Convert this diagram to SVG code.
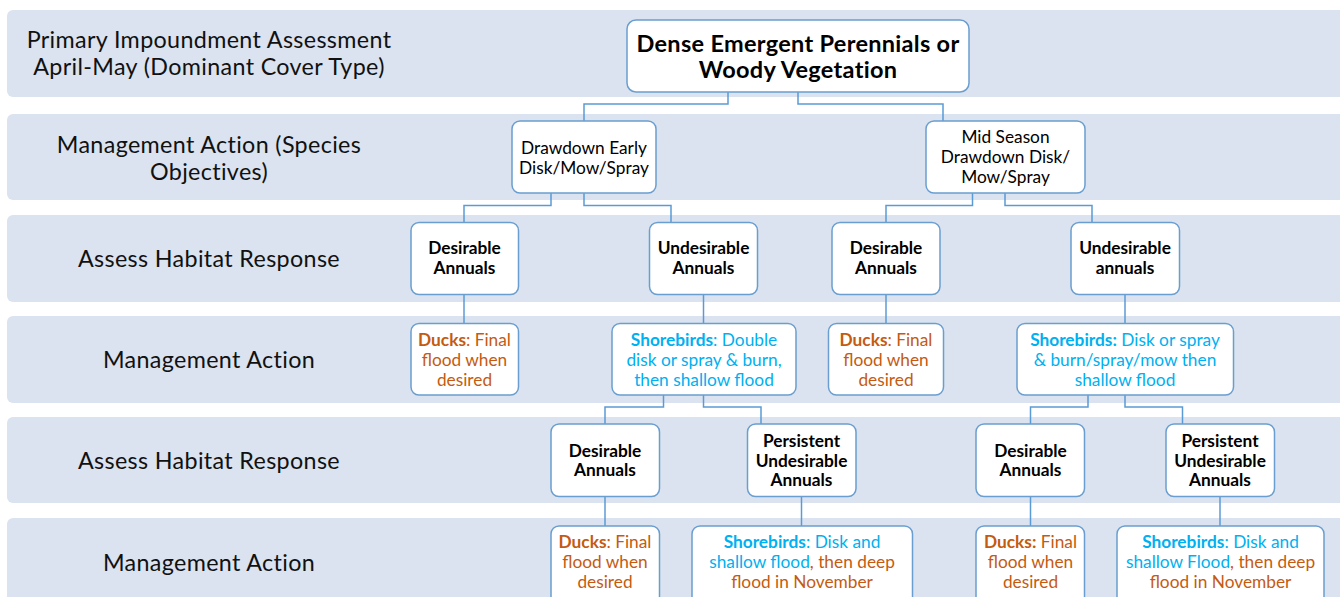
<svg xmlns="http://www.w3.org/2000/svg" width="1340" height="597" viewBox="0 0 1340 597">
  <style>
    .band { fill: #DAE3EF; }
    .node { fill: #FFFFFF; stroke: #6A9ED0; stroke-width: 1.5; }
    .conn { fill: none; stroke: #5B9BD5; stroke-width: 1.5; }
    text { font-family: Lato, "Open Sans", "Liberation Sans", sans-serif; }
    .lbl { font-size: 23.3px; letter-spacing: 0.35px; fill: #111111; text-anchor: middle; }
    .t { font-size: 17.3px; fill: #000000; text-anchor: middle; }
    .big { font-size: 23.5px; letter-spacing: 0.3px; font-weight: bold; fill: #000000; text-anchor: middle; }
    .b { font-weight: bold; }
    .duck { fill: #C55A11; }
    .shore { fill: #00B0F0; }
  </style>

  <!-- horizontal stage bands -->
  <g id="bands">
    <rect class="band" x="7" y="10" width="1345" height="87" rx="6"/>
    <rect class="band" x="7" y="114" width="1345" height="86" rx="6"/>
    <rect class="band" x="7" y="215" width="1345" height="87" rx="6"/>
    <rect class="band" x="7" y="316" width="1345" height="87" rx="6"/>
    <rect class="band" x="7" y="417" width="1345" height="86" rx="6"/>
    <rect class="band" x="7" y="518" width="1345" height="90" rx="6"/>
  </g>

  <!-- stage labels -->
  <g id="labels">
    <text class="lbl"><tspan x="209" y="48">Primary Impoundment Assessment</tspan><tspan x="209" y="75">April-May (Dominant Cover Type)</tspan></text>
    <text class="lbl"><tspan x="209" y="153">Management Action (Species</tspan><tspan x="209" y="180">Objectives)</tspan></text>
    <text class="lbl" x="209" y="267">Assess Habitat Response</text>
    <text class="lbl" x="209" y="368">Management Action</text>
    <text class="lbl" x="209" y="469">Assess Habitat Response</text>
    <text class="lbl" x="209" y="571">Management Action</text>
  </g>

  <!-- connectors -->
  <g id="connectors">
    <path class="conn" d="M728,92 V104 H584 V121"/>
    <path class="conn" d="M798,92 V104 H943 V121"/>
    <path class="conn" d="M551,193 V205.5 H464 V222"/>
    <path class="conn" d="M584,193 V205.5 H671 V222"/>
    <path class="conn" d="M972.5,193 V205.5 H886 V222"/>
    <path class="conn" d="M1005,193 V205.5 H1092 V222"/>
    <path class="conn" d="M464,294 V323"/>
    <path class="conn" d="M703.5,294 V323"/>
    <path class="conn" d="M886,294 V323"/>
    <path class="conn" d="M1125,294 V323"/>
    <path class="conn" d="M663.5,395 V407 H605 V424"/>
    <path class="conn" d="M703.5,395 V407 H761 V424"/>
    <path class="conn" d="M1088,395 V407 H1030.5 V424"/>
    <path class="conn" d="M1125,395 V407 H1182.5 V424"/>
    <path class="conn" d="M605,496.5 V526"/>
    <path class="conn" d="M801.5,496.5 V526"/>
    <path class="conn" d="M1030.5,496.5 V526"/>
    <path class="conn" d="M1220,496.5 V526"/>
  </g>

  <!-- root -->
  <g id="root">
    <rect class="node" x="627" y="20" width="342" height="72" rx="9"/>
    <text class="big"><tspan x="798" y="52">Dense Emergent Perennials or</tspan><tspan x="798" y="78">Woody Vegetation</tspan></text>
  </g>

  <!-- management actions -->
  <g id="drawdown-early">
    <rect class="node" x="512" y="121" width="144" height="72" rx="8"/>
    <text class="t"><tspan x="584" y="154">Drawdown Early</tspan><tspan x="584" y="174">Disk/Mow/Spray</tspan></text>
  </g>
  <g id="mid-season">
    <rect class="node" x="926" y="121" width="159" height="72" rx="8"/>
    <text class="t"><tspan x="1005.5" y="143">Mid Season</tspan><tspan x="1005.5" y="163">Drawdown Disk/</tspan><tspan x="1005.5" y="183">Mow/Spray</tspan></text>
  </g>

  <!-- first habitat assessment -->
  <g id="desirable-1">
    <rect class="node" x="411" y="222.5" width="107.5" height="72" rx="8"/>
    <text class="t b"><tspan x="464.5" y="254">Desirable</tspan><tspan x="464.5" y="274">Annuals</tspan></text>
  </g>
  <g id="undesirable-1">
    <rect class="node" x="649.5" y="222.5" width="108" height="72" rx="8"/>
    <text class="t b"><tspan x="703.5" y="254">Undesirable</tspan><tspan x="703.5" y="274">Annuals</tspan></text>
  </g>
  <g id="desirable-2">
    <rect class="node" x="832" y="222.5" width="108" height="72" rx="8"/>
    <text class="t b"><tspan x="886" y="254">Desirable</tspan><tspan x="886" y="274">Annuals</tspan></text>
  </g>
  <g id="undesirable-2">
    <rect class="node" x="1071" y="222.5" width="108.5" height="72" rx="8"/>
    <text class="t b"><tspan x="1125" y="254">Undesirable</tspan><tspan x="1125" y="274">annuals</tspan></text>
  </g>

  <!-- first species actions -->
  <g id="ducks-1">
    <rect class="node" x="411" y="323.5" width="107.5" height="71.5" rx="8"/>
    <text class="t duck"><tspan x="464.5" y="346"><tspan class="b">Ducks</tspan>: Final</tspan><tspan x="464.5" y="366">flood when</tspan><tspan x="464.5" y="385.5">desired</tspan></text>
  </g>
  <g id="shorebirds-1">
    <rect class="node" x="612" y="323.5" width="184" height="71.5" rx="8"/>
    <text class="t shore"><tspan x="704" y="346"><tspan class="b">Shorebirds</tspan>: Double</tspan><tspan x="704" y="366">disk or spray &amp; burn,</tspan><tspan x="704" y="385.5">then shallow flood</tspan></text>
  </g>
  <g id="ducks-2">
    <rect class="node" x="828.5" y="323.5" width="115" height="71.5" rx="8"/>
    <text class="t duck"><tspan x="886" y="346"><tspan class="b">Ducks</tspan>:  Final</tspan><tspan x="886" y="366">flood when</tspan><tspan x="886" y="385.5">desired</tspan></text>
  </g>
  <g id="shorebirds-2">
    <rect class="node" x="1017" y="323.5" width="216.5" height="71.5" rx="8"/>
    <text class="t shore"><tspan x="1125" y="346"><tspan class="b">Shorebirds:</tspan> Disk or spray</tspan><tspan x="1125" y="366">&amp; burn/spray/mow then</tspan><tspan x="1125" y="385.5">shallow flood</tspan></text>
  </g>

  <!-- second habitat assessment -->
  <g id="desirable-3">
    <rect class="node" x="551" y="424" width="108.5" height="72.5" rx="8"/>
    <text class="t b"><tspan x="605" y="457">Desirable</tspan><tspan x="605" y="476">Annuals</tspan></text>
  </g>
  <g id="persistent-1">
    <rect class="node" x="747.5" y="424" width="108.5" height="72.5" rx="8"/>
    <text class="t b"><tspan x="801.5" y="447">Persistent</tspan><tspan x="801.5" y="466.5">Undesirable</tspan><tspan x="801.5" y="486">Annuals</tspan></text>
  </g>
  <g id="desirable-4">
    <rect class="node" x="976" y="424" width="108.5" height="72.5" rx="8"/>
    <text class="t b"><tspan x="1030.5" y="457">Desirable</tspan><tspan x="1030.5" y="476">Annuals</tspan></text>
  </g>
  <g id="persistent-2">
    <rect class="node" x="1166" y="424" width="108.5" height="72.5" rx="8"/>
    <text class="t b"><tspan x="1220" y="447">Persistent</tspan><tspan x="1220" y="466.5">Undesirable</tspan><tspan x="1220" y="486">Annuals</tspan></text>
  </g>

  <!-- final species actions -->
  <g id="ducks-3">
    <rect class="node" x="551" y="526" width="108.5" height="80" rx="8"/>
    <text class="t duck"><tspan x="605" y="548"><tspan class="b">Ducks</tspan>: Final</tspan><tspan x="605" y="568">flood when</tspan><tspan x="605" y="587.5">desired</tspan></text>
  </g>
  <g id="shorebirds-3">
    <rect class="node" x="692" y="526" width="220.5" height="80" rx="8"/>
    <text class="t"><tspan x="802" y="548" class="shore"><tspan class="b">Shorebirds</tspan>: Disk and</tspan><tspan x="802" y="568"><tspan class="shore">shallow flood</tspan><tspan class="duck">, then deep</tspan></tspan><tspan x="802" y="587.5" class="duck">flood in November</tspan></text>
  </g>
  <g id="ducks-4">
    <rect class="node" x="976" y="526" width="108.5" height="80" rx="8"/>
    <text class="t duck"><tspan x="1030.5" y="548"><tspan class="b">Ducks:</tspan> Final</tspan><tspan x="1030.5" y="568">flood when</tspan><tspan x="1030.5" y="587.5">desired</tspan></text>
  </g>
  <g id="shorebirds-4">
    <rect class="node" x="1117" y="526" width="207" height="80" rx="8"/>
    <text class="t"><tspan x="1220.5" y="548" class="shore"><tspan class="b">Shorebirds</tspan>: Disk and</tspan><tspan x="1220.5" y="568"><tspan class="shore">shallow Flood</tspan><tspan class="duck">, then deep</tspan></tspan><tspan x="1220.5" y="587.5" class="duck">flood in November</tspan></text>
  </g>
</svg>
